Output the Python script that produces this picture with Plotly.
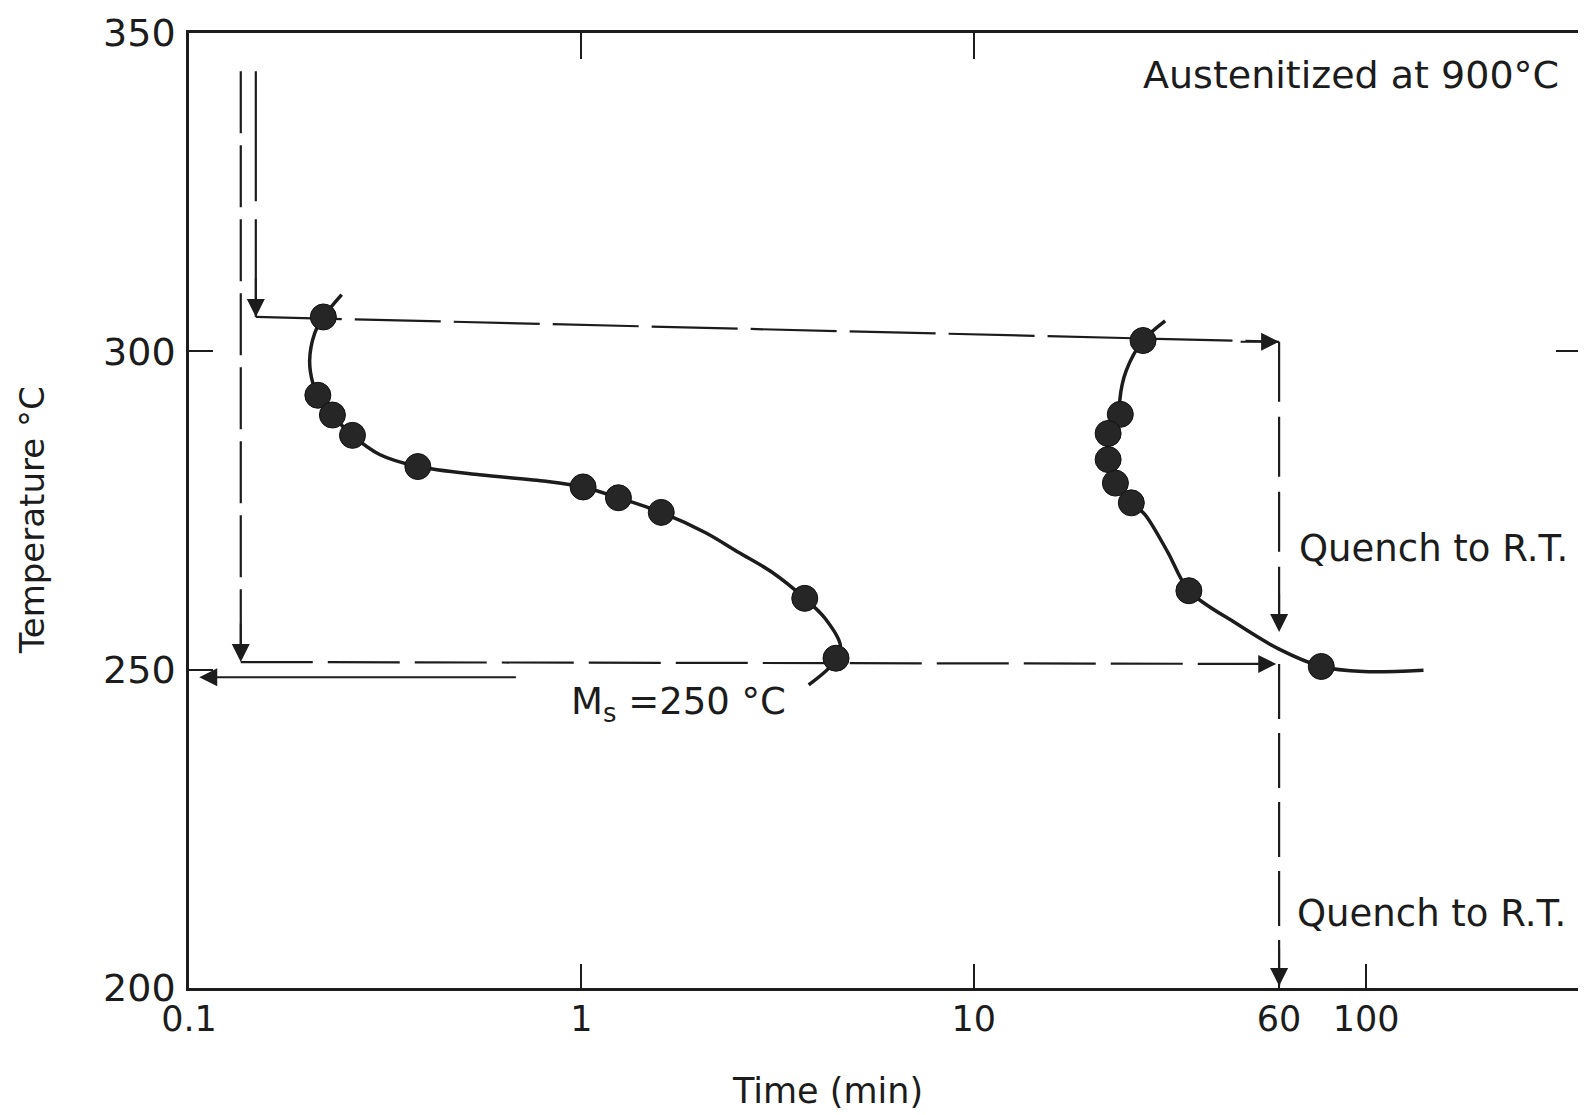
import math
import plotly.graph_objects as go

# ---------------- values ----------------
# Left (transformation-start) curve: drawn line path and measured points
left_curve_t = [0.245, 0.220, 0.209, 0.203, 0.207, 0.213, 0.232, 0.261, 0.306, 0.383,
                0.550, 0.812, 1.01, 1.243, 1.598, 2.073, 2.519, 3.062, 3.709, 4.186,
                4.571, 4.456, 4.268, 3.796]
left_curve_T = [308.9, 305.4, 302.8, 298.6, 294.9, 293.1, 290.0, 286.8, 283.8, 281.9,
                280.6, 279.6, 278.7, 277.0, 274.7, 271.5, 268.4, 265.3, 261.2, 258.0,
                253.8, 251.8, 250.2, 247.6]
left_pts_t = [0.220, 0.213, 0.232, 0.261, 0.383, 1.01, 1.243, 1.598, 3.709, 4.456]
left_pts_T = [305.4, 293.1, 290.0, 286.8, 281.9, 278.7, 277.0, 274.7, 261.2, 251.8]

# Right curve
right_curve_t = [30.75, 27.0, 24.48, 23.56, 23.63, 22.0, 22.0, 22.96, 25.21, 27.28,
                 31.26, 35.34, 46.81, 59.65, 76.85, 98.5, 140.0]
right_curve_T = [304.8, 301.7, 297.0, 292.3, 290.1, 287.1, 283.0, 279.3, 276.2, 274.4,
                 268.4, 262.4, 257.2, 253.3, 250.5, 249.7, 249.9]
right_pts_t = [27.0, 23.63, 22.0, 22.0, 22.96, 25.21, 35.34, 76.85]
right_pts_T = [301.7, 290.1, 287.1, 283.0, 279.3, 276.2, 262.4, 250.5]

# Dashed heat-treatment path lines (time, temperature)
upper_drop_t = [0.148, 0.148]
upper_drop_T = [344.0, 305.4]
upper_hold_t = [0.148, 60.0]
upper_hold_T = [305.4, 301.5]
upper_quench_t = [60.0, 60.0]
upper_quench_T = [301.5, 255.9]
lower_drop_t = [0.1355, 0.1355]
lower_drop_T = [344.0, 251.2]
lower_hold_t = [0.1355, 59.0]
lower_hold_T = [251.2, 250.9]
lower_quench_t = [60.0, 60.0]
lower_quench_T = [250.9, 200.3]
ms_arrow_t = [0.687, 0.1062]
ms_arrow_T = [248.8, 248.8]

x_tick_vals = [0.1, 1, 10, 60, 100]
x_tick_text = ["0.1", "1", "10", "60", "100"]
y_tick_vals = [200, 250, 300, 350]
y_tick_text = ["200", "250", "300", "350"]
x_top_ticks = [1, 10]
y_right_ticks = [300]

x_range_log = [-1.0, 2.545]
y_range = [200, 350]

# ---------------- styling ----------------
FONT = "DejaVu Sans"
INK = "#1c1c1c"
OFF = 8                      # default body margin of the html page
W, H = 1586 - OFF, 1115 - OFF
ML, MR, MT, MB = 189 - OFF, 3, 27 - OFF, 127
PW = W - ML - MR
PH = H - MT - MB

fig = go.Figure()

for ct, cT in ((left_curve_t, left_curve_T), (right_curve_t, right_curve_T)):
    fig.add_trace(go.Scatter(x=ct, y=cT, mode="lines",
                             line=dict(color=INK, width=3.5, shape="spline", smoothing=0.9),
                             hoverinfo="skip", showlegend=False))

guides = [
    (upper_drop_t, upper_drop_T, "130px,18px"),
    (upper_hold_t, upper_hold_T, "86px,13px"),
    (upper_quench_t, upper_quench_T, "60px,15px"),
    (lower_drop_t, lower_drop_T, "62px,12px"),
    (lower_hold_t, lower_hold_T, "72px,15px"),
    (lower_quench_t, lower_quench_T, "55px,14px"),
]
for gt, gT, dash in guides:
    fig.add_trace(go.Scatter(x=gt, y=gT, mode="lines",
                             line=dict(color=INK, width=2.2, dash=dash),
                             hoverinfo="skip", showlegend=False))

for pt, pT in ((left_pts_t, left_pts_T), (right_pts_t, right_pts_T)):
    fig.add_trace(go.Scatter(x=pt, y=pT, mode="markers",
                             marker=dict(size=26, color="#262626",
                                         line=dict(color="#111", width=1)),
                             showlegend=False))

# invisible trace so that the top / right tick axes are drawn
fig.add_trace(go.Scatter(x=[], y=[], xaxis="x2", yaxis="y2", showlegend=False,
                         hoverinfo="skip"))

annotations = []
ARROW = dict(showarrow=True, arrowhead=2, arrowsize=1.8, arrowwidth=2,
             arrowcolor=INK, standoff=0)


def head(t, T, ax, ay):
    annotations.append(dict(x=math.log10(t), y=T, xref="x", yref="y", text="",
                            ax=ax, ay=ay, **ARROW))


head(upper_drop_t[-1], upper_drop_T[-1], 0, -40)
head(upper_hold_t[-1], upper_hold_T[-1], -40, 0)
head(upper_quench_t[-1], upper_quench_T[-1], 0, -40)
head(lower_drop_t[-1], lower_drop_T[-1], 0, -40)
head(lower_hold_t[-1], lower_hold_T[-1], -40, 0)
head(lower_quench_t[-1], lower_quench_T[-1], 0, -40)
annotations.append(dict(x=math.log10(ms_arrow_t[1]), y=ms_arrow_T[1], xref="x", yref="y",
                        ax=math.log10(ms_arrow_t[0]), ay=ms_arrow_T[0], axref="x",
                        ayref="y", text="", **ARROW))


def px(xpage):
    return (xpage - OFF - ML) / PW


def py(ypage):
    return (H - MB - (ypage - OFF)) / PH


txt = dict(family=FONT, size=37, color=INK)
annotations += [
    dict(text="Austenitized at 900°C", x=px(1564), y=py(69), xref="paper", yref="paper",
         xanchor="right", yanchor="middle", showarrow=False,
         font=dict(family=FONT, size=38, color=INK)),
    dict(text="Quench to R.T.", x=px(1299), y=py(546), xref="paper", yref="paper",
         xanchor="left", yanchor="middle", showarrow=False, font=txt),
    dict(text="Quench to R.T.", x=px(1297), y=py(913), xref="paper", yref="paper",
         xanchor="left", yanchor="middle", showarrow=False, font=txt),
    dict(text="M<sub>s</sub> =250 °C", x=px(570), y=py(702), xref="paper", yref="paper",
         xanchor="left", yanchor="middle", showarrow=False, font=txt),
    dict(text="Time (min)", x=px(829), y=py(1092), xref="paper", yref="paper",
         xanchor="center", yanchor="middle", showarrow=False,
         font=dict(family=FONT, size=35, color=INK)),
    dict(text="Temperature °C", x=px(32), y=py(517), xref="paper", yref="paper",
         xanchor="center", yanchor="middle", showarrow=False, textangle=-90,
         font=dict(family=FONT, size=34, color=INK)),
]

fig.update_layout(
    width=W, height=H,
    margin=dict(l=ML, r=MR, t=MT, b=MB),
    paper_bgcolor="white", plot_bgcolor="white",
    showlegend=False,
    annotations=annotations,
    xaxis=dict(type="log", range=x_range_log, tickvals=x_tick_vals, ticktext=x_tick_text,
               ticks="inside", ticklen=24, tickwidth=2, tickcolor=INK,
               showline=True, linewidth=3, linecolor=INK, mirror=True,
               showgrid=False, zeroline=False, ticklabelstandoff=-2,
               ticklabeloverflow="allow",
               tickfont=dict(family=FONT, size=35, color=INK)),
    xaxis2=dict(type="log", range=x_range_log, overlaying="x", side="top",
                tickvals=x_top_ticks, ticks="inside", ticklen=26, tickwidth=2,
                tickcolor=INK, showticklabels=False, showline=False,
                showgrid=False, zeroline=False),
    yaxis=dict(range=y_range, tickvals=y_tick_vals, ticktext=y_tick_text,
               ticks="inside", ticklen=24, tickwidth=2, tickcolor=INK,
               showline=True, linewidth=2.5, linecolor=INK, mirror=True,
               showgrid=False, zeroline=False, ticklabelstandoff=3,
               ticklabeloverflow="allow",
               tickfont=dict(family=FONT, size=38, color=INK)),
    yaxis2=dict(range=y_range, overlaying="y", side="right", tickvals=y_right_ticks,
                ticks="inside", ticklen=24, tickwidth=2, tickcolor=INK,
                showticklabels=False, showline=False, showgrid=False, zeroline=False),
)

fig.write_html("out.html")
